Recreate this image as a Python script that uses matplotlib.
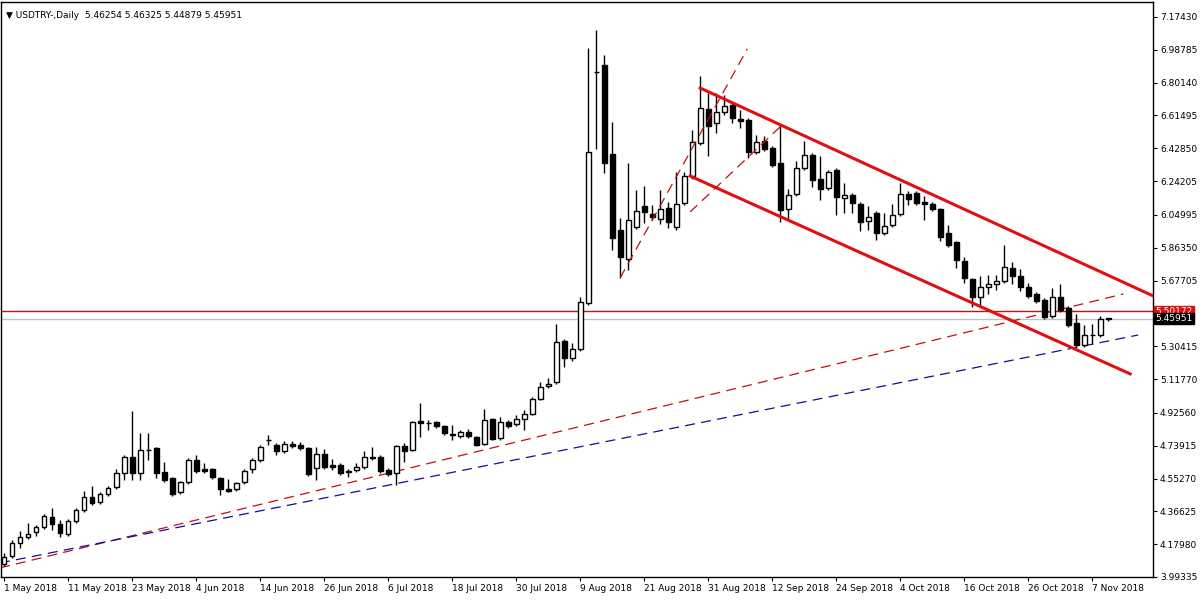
import pandas as pd
import matplotlib.pyplot as plt

# USDTRY daily candles, 1 May 2018 .. 9 Nov 2018
opens = [4.067, 4.113, 4.187, 4.221, 4.249, 4.278, 4.334, 4.295, 4.238, 4.312,
         4.374, 4.448, 4.420, 4.465, 4.505, 4.584, 4.675, 4.584, 4.715, 4.726,
         4.590, 4.556, 4.477, 4.533, 4.658, 4.607, 4.607, 4.556, 4.494, 4.494,
         4.533, 4.607, 4.658, 4.770, 4.743, 4.709, 4.749, 4.743, 4.726, 4.613,
         4.692, 4.630, 4.630, 4.596, 4.601, 4.619, 4.670, 4.675, 4.601, 4.584,
         4.738, 4.715, 4.880, 4.866, 4.874, 4.851, 4.806, 4.795, 4.817, 4.789,
         4.749, 4.891, 4.783, 4.874, 4.863, 4.891, 4.919, 5.005, 5.078, 5.101,
         5.334, 5.238, 5.289, 5.550, 6.860, 6.902, 6.396, 5.965, 5.800, 5.982,
         6.101, 6.056, 6.027, 6.090, 5.982, 6.118, 6.271, 6.459, 6.652, 6.572,
         6.635, 6.675, 6.595, 6.589, 6.408, 6.470, 6.430, 6.345, 6.084, 6.169,
         6.317, 6.391, 6.254, 6.203, 6.305, 6.146, 6.163, 6.112, 6.016, 6.061,
         5.948, 5.993, 6.056, 6.169, 6.175, 6.124, 6.112, 6.084, 5.948, 5.896,
         5.788, 5.686, 5.584, 5.641, 5.658, 5.675, 5.749, 5.703, 5.641, 5.601,
         5.567, 5.476, 5.584, 5.521, 5.436, 5.311, 5.366, 5.368, 5.46254]
highs = [4.130, 4.204, 4.255, 4.300, 4.289, 4.352, 4.386, 4.317, 4.323, 4.386,
         4.482, 4.510, 4.477, 4.510, 4.607, 4.687, 4.937, 4.812, 4.812, 4.732,
         4.647, 4.562, 4.539, 4.670, 4.687, 4.641, 4.613, 4.562, 4.550, 4.533,
         4.607, 4.670, 4.743, 4.800, 4.755, 4.766, 4.766, 4.760, 4.732, 4.732,
         4.721, 4.664, 4.641, 4.607, 4.641, 4.709, 4.732, 4.687, 4.613, 4.743,
         4.755, 4.880, 4.982, 4.885, 4.880, 4.857, 4.857, 4.829, 4.834, 4.795,
         4.948, 4.897, 4.902, 4.885, 4.914, 4.942, 5.016, 5.101, 5.124, 5.431,
         5.345, 5.323, 5.584, 6.998, 7.101, 6.959, 6.578, 6.033, 6.345, 6.192,
         6.215, 6.107, 6.192, 6.124, 6.294, 6.294, 6.533, 6.839, 6.743, 6.743,
         6.731, 6.686, 6.646, 6.601, 6.504, 6.499, 6.442, 6.561, 6.197, 6.356,
         6.470, 6.402, 6.385, 6.305, 6.317, 6.232, 6.175, 6.124, 6.101, 6.073,
         6.061, 6.112, 6.232, 6.186, 6.186, 6.158, 6.124, 6.090, 5.993, 5.902,
         5.811, 5.692, 5.703, 5.709, 5.709, 5.879, 5.783, 5.743, 5.664, 5.612,
         5.578, 5.635, 5.658, 5.533, 5.487, 5.425, 5.431, 5.476, 5.46325]
lows = [4.056, 4.102, 4.158, 4.209, 4.227, 4.266, 4.261, 4.221, 4.227, 4.300,
        4.363, 4.403, 4.408, 4.454, 4.494, 4.545, 4.545, 4.545, 4.658, 4.556,
        4.533, 4.454, 4.465, 4.522, 4.584, 4.584, 4.550, 4.460, 4.477, 4.482,
        4.522, 4.584, 4.647, 4.743, 4.687, 4.698, 4.726, 4.715, 4.567, 4.545,
        4.607, 4.601, 4.573, 4.562, 4.590, 4.607, 4.658, 4.584, 4.567, 4.516,
        4.647, 4.709, 4.789, 4.829, 4.840, 4.800, 4.772, 4.783, 4.783, 4.738,
        4.743, 4.772, 4.772, 4.840, 4.851, 4.829, 4.914, 5.000, 5.067, 5.090,
        5.186, 5.220, 5.278, 5.539, 6.425, 6.288, 5.851, 5.692, 5.737, 5.970,
        6.004, 6.021, 5.999, 5.976, 5.965, 6.107, 6.254, 6.447, 6.385, 6.516,
        6.618, 6.572, 6.544, 6.374, 6.396, 6.413, 6.322, 6.010, 6.021, 6.158,
        6.305, 6.209, 6.135, 6.192, 6.050, 6.061, 6.061, 5.959, 5.965, 5.908,
        5.936, 5.982, 6.044, 6.107, 6.107, 6.021, 6.073, 5.902, 5.868, 5.749,
        5.664, 5.527, 5.527, 5.601, 5.624, 5.664, 5.658, 5.618, 5.578, 5.550,
        5.459, 5.465, 5.499, 5.414, 5.300, 5.300, 5.317, 5.357, 5.44879]
closes = [4.107, 4.187, 4.221, 4.238, 4.278, 4.340, 4.295, 4.244, 4.312, 4.374,
          4.448, 4.414, 4.465, 4.499, 4.584, 4.675, 4.584, 4.715, 4.717, 4.584,
          4.545, 4.465, 4.533, 4.658, 4.596, 4.596, 4.562, 4.494, 4.482, 4.528,
          4.596, 4.658, 4.732, 4.772, 4.709, 4.749, 4.738, 4.726, 4.579, 4.692,
          4.619, 4.619, 4.584, 4.590, 4.619, 4.675, 4.675, 4.596, 4.579, 4.738,
          4.709, 4.874, 4.868, 4.868, 4.851, 4.812, 4.800, 4.817, 4.795, 4.743,
          4.885, 4.777, 4.874, 4.851, 4.891, 4.919, 5.005, 5.073, 5.090, 5.328,
          5.238, 5.289, 5.556, 6.408, 6.862, 6.345, 5.919, 5.811, 6.021, 6.073,
          6.067, 6.039, 6.084, 6.010, 6.112, 6.271, 6.464, 6.658, 6.555, 6.635,
          6.669, 6.601, 6.584, 6.408, 6.464, 6.425, 6.334, 6.078, 6.163, 6.317,
          6.391, 6.249, 6.198, 6.294, 6.152, 6.163, 6.118, 6.010, 6.038, 5.948,
          5.987, 6.050, 6.169, 6.141, 6.118, 6.112, 6.084, 5.925, 5.879, 5.794,
          5.692, 5.584, 5.641, 5.658, 5.675, 5.754, 5.703, 5.641, 5.590, 5.561,
          5.470, 5.584, 5.510, 5.425, 5.311, 5.368, 5.368, 5.460, 5.45951]

dates = pd.bdate_range('2018-05-01', periods=len(closes))
date_labels = ['1 May 2018', '11 May 2018', '23 May 2018', '4 Jun 2018', '14 Jun 2018',
               '26 Jun 2018', '6 Jul 2018', '18 Jul 2018', '30 Jul 2018', '9 Aug 2018',
               '21 Aug 2018', '31 Aug 2018', '12 Sep 2018', '24 Sep 2018', '4 Oct 2018',
               '16 Oct 2018', '26 Oct 2018', '7 Nov 2018']
price_ticks = [7.17430, 6.98785, 6.80140, 6.61495, 6.42850, 6.24205, 6.04995,
               5.86350, 5.67705, 5.30415, 5.11770, 4.92560, 4.73915, 4.55270,
               4.36625, 4.17980, 3.99335]
level_line = 5.50172
last_price = 5.45951

# trend lines: (bar index, price) pairs
channel_upper = [(87.0, 6.771), (143.9, 5.584)]
channel_lower = [(85.75, 6.271), (140.75, 5.147)]
flag_lines = [[(77.0, 5.692), (92.9, 6.993)], [(85.75, 6.067), (97.25, 6.561)]]
red_trend = [(-0.5, 4.045), (139.9, 5.601)]
blue_trend = [(-0.5, 4.073), (141.75, 5.368)]

fig = plt.figure(figsize=(12, 6), dpi=100)
ax = fig.add_axes([1 / 1200, 23 / 600, 1152 / 1200, 575 / 600])

xs = list(range(len(closes)))
for i in xs:
    o, h, l, c = opens[i], highs[i], lows[i], closes[i]
    ax.vlines(i, l, h, color='black', linewidth=1, zorder=2)
    up = c >= o
    bottom = min(o, c)
    height = max(abs(c - o), 0.0005)
    ax.bar(i, height, bottom=bottom, width=0.62, color='white' if up else 'black',
           edgecolor='black', linewidth=1, zorder=3)

ax.axhline(level_line, color='#d01010', linewidth=1, zorder=1)
ax.axhline(last_price, color='#c0c0c0', linewidth=1, zorder=1)

for pts in (channel_upper, channel_lower):
    ax.plot(*zip(*pts), color='#e01010', linewidth=2.2, zorder=4)
for pts in flag_lines:
    ax.plot(*zip(*pts), color='#c01010', linewidth=0.9, dashes=(8, 5), zorder=4)
ax.plot(*zip(*red_trend), color='#c01010', linewidth=0.9, dashes=(8, 5), zorder=1)
ax.plot(*zip(*blue_trend), color='#101090', linewidth=0.9, dashes=(8, 5), zorder=1)

ax.set_xlim(-0.375, 143.6)
ax.set_ylim(3.99335, 7.2595)

ax.yaxis.tick_right()
ax.set_yticks(price_ticks)
ax.set_yticklabels([f'{p:.5f}' for p in price_ticks], fontsize=6.5)
tick_idx = list(range(0, len(closes), 8))[:len(date_labels)]
ax.set_xticks(tick_idx)
ax.set_xticklabels(date_labels, fontsize=6.5, ha='left')
ax.tick_params(axis='both', length=3, direction='out', pad=2)
for sp in ax.spines.values():
    sp.set_linewidth(1)

for val, bg in ((level_line, '#e01010'), (last_price, 'black')):
    ax.text(1.002, val, f'{val:.5f}', transform=ax.get_yaxis_transform(), fontsize=6.5,
            color='white', va='center', ha='left',
            bbox=dict(boxstyle='square,pad=0.12', fc=bg, ec=bg))

ax.text(0.004, 0.985, '\u25bc USDTRY-,Daily  5.46254 5.46325 5.44879 5.45951',
        transform=ax.transAxes, fontsize=6.5, va='top', ha='left')

fig.savefig('out.png', dpi=100)
